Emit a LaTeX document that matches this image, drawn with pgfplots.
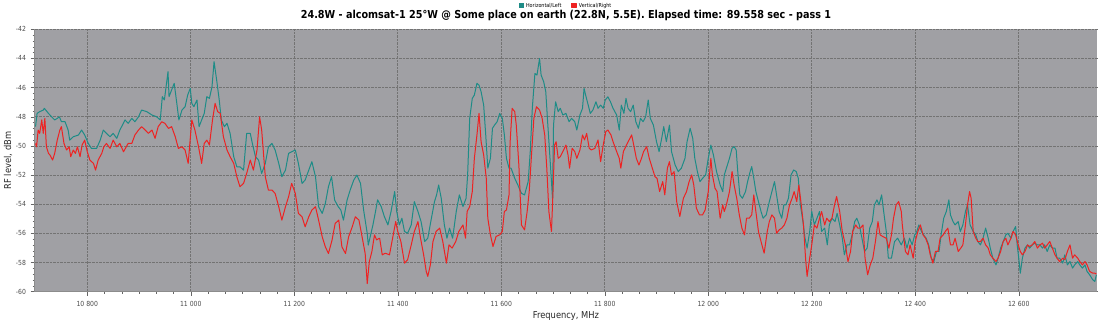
\documentclass[border=0pt]{standalone}
\usepackage{fontspec}
\setmainfont[FakeStretch=0.88]{DejaVu Sans}
\usepackage{pgfplots}
\pgfplotsset{compat=1.18}
\definecolor{plotbg}{RGB}{160,160,164}
\definecolor{hcol}{RGB}{30,140,135}
\definecolor{vcol}{RGB}{238,34,34}
\begin{document}
\begin{tikzpicture}[x=1bp,y=1bp]
\useasboundingbox (0,0) rectangle (1100,322);
\begin{axis}[
  at={(34.5bp,30.3bp)}, anchor=south west,
  scale only axis, width=1062.9bp, height=262.4bp,
  xmin=10698, xmax=12752, ymin=-60, ymax=-42,
  axis background/.style={fill=plotbg},
  axis lines*=left,
  axis line style={draw=black!45, line width=0.6bp},
  scaled x ticks=false, scaled y ticks=false,
  xtick={10800,11000,...,12600}, ytick={-60,-58,...,-42},
  minor x tick num=5, minor y tick num=4,
  tick align=outside, major tick length=4bp, minor tick length=2bp,
  tick style={draw=black!60, line width=0.5bp},
  grid=major,
  major grid style={densely dotted, draw=black!55, line width=0.6bp},
  /pgf/number format/1000 sep={\ },
  /pgf/number format/assume math mode=true,
  ticklabel style={font=\fontsize{7}{8}\selectfont, text=black!70},
  xticklabel style={yshift=-2bp},
  yticklabel style={xshift=-1bp},
  xlabel={Frequency, MHz}, ylabel={RF level, dBm},
  label style={font=\fontsize{9.5}{11}\selectfont, text=black!85},
  xlabel style={at={(axis description cs:0.5,-0.0926)}, anchor=center},
  ylabel style={at={(axis description cs:-0.0249,0.5)}, anchor=center},
  title={24.8W - alcomsat-1 25°W @ Some place on earth (22.8N, 5.5E). Elapsed time: 89.558 sec - pass 1},
  title style={font=\bfseries\fontsize{11}{12}\selectfont, at={(axis description cs:0.5,1)}, anchor=base, yshift=4.8bp},
  legend columns=2,
  legend style={at={(axis description cs:0.5,1)}, anchor=center, yshift=23.3bp, draw=none, fill=none,
    font=\fontsize{5.5}{6}\selectfont, inner sep=0pt,
    /tikz/every even column/.append style={column sep=8bp}},
  legend image code/.code={\fill[#1] (0bp,-2bp) rectangle (4.5bp,2.5bp);},
  every axis plot/.append style={line width=1bp, line join=round},
]
\addplot[color=hcol, no marks] coordinates {
(10700,-48.68)(10703,-47.77)(10708,-47.65)(10715,-47.54)(10717,-47.42)(10725,-47.77)(10731,-48.00)(10737,-48.22)(10742,-48.11)(10746,-48.00)(10750,-48.34)(10757,-48.34)(10763,-48.91)(10766,-49.60)(10773,-49.37)(10783,-49.25)(10789,-48.91)(10795,-49.25)(10802,-49.83)(10808,-50.17)(10818,-50.17)(10825,-49.60)(10831,-48.91)(10837,-49.14)(10844,-49.37)(10850,-49.14)(10857,-49.48)(10863,-48.91)(10873,-48.22)(10879,-48.45)(10886,-48.11)(10892,-48.34)(10899,-48.00)(10905,-47.54)(10915,-47.65)(10925,-47.88)(10934,-48.00)(10941,-48.22)(10945,-46.62)(10949,-46.85)(10956,-44.91)(10958,-46.62)(10963,-46.16)(10968,-45.71)(10973,-47.08)(10977,-48.22)(10983,-47.54)(10989,-47.31)(10994,-46.51)(10999,-46.05)(11002,-47.08)(11006,-47.31)(11012,-46.85)(11016,-48.68)(11021,-48.22)(11026,-47.77)(11031,-46.62)(11036,-46.74)(11041,-45.94)(11045,-44.22)(11050,-45.48)(11055,-46.85)(11059,-48.22)(11065,-48.68)(11070,-48.45)(11076,-49.14)(11083,-50.74)(11089,-51.43)(11095,-51.43)(11102,-51.66)(11108,-49.14)(11115,-49.14)(11119,-49.83)(11125,-50.74)(11131,-50.97)(11137,-51.89)(11144,-51.20)(11150,-50.06)(11157,-49.83)(11163,-50.28)(11170,-51.20)(11176,-52.11)(11183,-51.66)(11189,-50.51)(11195,-50.40)(11202,-50.28)(11208,-51.20)(11215,-52.57)(11221,-52.34)(11228,-51.66)(11234,-51.08)(11241,-52.11)(11247,-54.17)(11254,-54.63)(11260,-53.95)(11266,-52.80)(11272,-52.11)(11278,-53.72)(11285,-54.17)(11290,-54.40)(11295,-55.09)(11302,-53.72)(11308,-53.03)(11315,-52.34)(11321,-52.00)(11328,-52.57)(11334,-54.40)(11341,-56.00)(11343,-56.80)(11352,-55.42)(11357,-54.50)(11361,-53.70)(11368,-54.16)(11374,-54.84)(11381,-55.42)(11387,-54.50)(11394,-53.13)(11398,-54.50)(11403,-55.42)(11408,-54.96)(11413,-55.87)(11419,-55.99)(11426,-55.42)(11432,-53.82)(11439,-54.50)(11445,-55.19)(11452,-56.56)(11458,-56.33)(11465,-54.96)(11471,-53.82)(11475,-53.36)(11479,-52.68)(11484,-53.59)(11490,-55.42)(11495,-56.33)(11500,-55.64)(11506,-56.33)(11513,-54.50)(11519,-53.36)(11526,-54.16)(11532,-53.59)(11535,-51.99)(11539,-48.11)(11544,-46.74)(11548,-46.51)(11553,-45.71)(11557,-45.83)(11561,-46.28)(11566,-47.20)(11570,-49.25)(11574,-51.53)(11579,-50.85)(11583,-48.79)(11587,-48.57)(11592,-48.34)(11597,-47.77)(11602,-48.11)(11606,-49.25)(11610,-50.85)(11615,-51.53)(11619,-51.53)(11626,-52.22)(11632,-52.68)(11639,-53.25)(11645,-53.36)(11652,-52.45)(11656,-50.39)(11660,-47.42)(11665,-45.03)(11669,-45.14)(11674,-44.00)(11677,-45.14)(11682,-45.60)(11686,-46.28)(11690,-48.57)(11695,-51.31)(11699,-53.59)(11701,-48.57)(11705,-46.97)(11710,-47.65)(11714,-47.42)(11719,-47.88)(11725,-47.77)(11731,-48.34)(11736,-48.11)(11742,-48.34)(11746,-48.91)(11752,-47.88)(11757,-47.42)(11760,-46.05)(11763,-46.51)(11768,-47.20)(11772,-47.77)(11777,-47.54)(11783,-46.97)(11787,-47.42)(11792,-47.20)(11797,-47.42)(11801,-46.85)(11806,-46.63)(11811,-46.97)(11816,-47.42)(11823,-47.88)(11828,-48.91)(11832,-47.20)(11837,-47.77)(11841,-46.74)(11845,-47.42)(11850,-47.65)(11855,-47.20)(11860,-48.34)(11865,-48.79)(11869,-48.11)(11874,-48.34)(11879,-48.00)(11884,-46.85)(11888,-48.11)(11894,-48.57)(11900,-49.71)(11905,-50.39)(11910,-49.48)(11914,-48.68)(11919,-49.71)(11925,-48.57)(11929,-50.39)(11936,-51.31)(11942,-51.76)(11948,-51.53)(11955,-50.85)(11959,-49.71)(11965,-48.79)(11970,-49.48)(11974,-50.85)(11979,-51.76)(11984,-52.45)(11989,-52.22)(11995,-51.99)(12000,-50.85)(12005,-49.94)(12010,-50.62)(12016,-51.76)(12023,-52.68)(12028,-53.13)(12031,-51.99)(12035,-51.53)(12041,-50.85)(12046,-50.16)(12050,-50.05)(12054,-50.28)(12057,-51.76)(12061,-53.36)(12066,-53.59)(12072,-53.13)(12076,-52.45)(12081,-51.76)(12084,-51.42)(12088,-52.22)(12092,-53.13)(12097,-53.82)(12102,-54.50)(12106,-54.96)(12112,-54.73)(12118,-53.82)(12123,-53.13)(12128,-52.45)(12132,-53.36)(12137,-54.50)(12142,-54.96)(12146,-54.05)(12150,-54.05)(12155,-53.59)(12160,-51.99)(12165,-51.65)(12170,-51.76)(12174,-52.22)(12178,-54.05)(12183,-55.19)(12187,-56.33)(12191,-57.01)(12196,-55.87)(12200,-54.50)(12205,-55.42)(12210,-54.96)(12215,-54.50)(12219,-55.87)(12225,-55.64)(12230,-56.79)(12234,-55.42)(12239,-54.96)(12245,-55.19)(12249,-54.62)(12254,-55.42)(12259,-56.33)(12263,-57.47)(12268,-56.79)(12273,-56.79)(12278,-56.10)(12283,-55.19)(12287,-54.96)(12292,-55.42)(12297,-56.33)(12302,-57.24)(12307,-57.01)(12312,-55.64)(12317,-55.19)(12321,-54.05)(12326,-53.70)(12330,-54.05)(12335,-53.36)(12339,-54.50)(12344,-55.87)(12348,-57.70)(12354,-57.70)(12360,-56.56)(12366,-56.33)(12373,-56.79)(12379,-56.33)(12384,-57.01)(12389,-56.33)(12394,-56.79)(12399,-56.10)(12403,-55.87)(12407,-55.42)(12412,-55.87)(12416,-56.10)(12421,-56.33)(12426,-56.79)(12431,-57.70)(12436,-57.93)(12441,-57.24)(12446,-57.24)(12450,-56.10)(12455,-54.96)(12460,-54.50)(12465,-53.70)(12468,-54.73)(12473,-55.19)(12477,-55.42)(12483,-55.19)(12487,-55.87)(12492,-55.42)(12497,-54.50)(12501,-54.05)(12506,-55.42)(12512,-55.87)(12517,-56.10)(12521,-56.56)(12526,-56.79)(12531,-56.33)(12536,-55.64)(12541,-56.33)(12545,-57.01)(12550,-57.70)(12556,-58.16)(12560,-57.70)(12565,-57.01)(12570,-56.56)(12575,-56.10)(12579,-55.99)(12585,-56.33)(12589,-55.87)(12594,-55.53)(12597,-56.79)(12600,-57.70)(12603,-58.73)(12607,-57.70)(12612,-57.01)(12617,-56.79)(12621,-57.01)(12626,-56.79)(12631,-56.67)(12636,-56.79)(12641,-56.79)(12646,-57.01)(12650,-56.79)(12655,-57.24)(12660,-56.79)(12665,-57.01)(12670,-57.01)(12674,-57.70)(12679,-57.70)(12685,-58.04)(12689,-57.47)(12694,-58.16)(12699,-57.93)(12704,-58.38)(12708,-58.16)(12714,-57.93)(12718,-58.16)(12723,-58.38)(12728,-58.16)(12732,-58.61)(12737,-58.84)(12743,-59.18)(12747,-59.30)(12750,-58.84)
};
\addlegendentry{Horizontal/Left}
\addplot[color=vcol, no marks] coordinates {
(10700,-49.83)(10702,-50.06)(10705,-48.91)(10708,-49.14)(10712,-48.22)(10715,-49.14)(10718,-48.11)(10721,-50.06)(10725,-50.51)(10728,-50.63)(10733,-50.97)(10737,-50.51)(10742,-49.60)(10747,-48.91)(10750,-48.68)(10755,-49.83)(10760,-50.28)(10765,-50.06)(10768,-50.74)(10773,-50.28)(10777,-50.51)(10781,-50.06)(10786,-50.74)(10790,-49.94)(10795,-49.60)(10800,-50.40)(10805,-50.97)(10812,-51.20)(10816,-51.66)(10821,-50.97)(10828,-50.51)(10832,-50.06)(10837,-49.83)(10844,-50.17)(10850,-49.60)(10857,-50.06)(10863,-49.83)(10870,-50.40)(10879,-49.83)(10886,-49.83)(10892,-49.25)(10899,-48.91)(10905,-48.68)(10912,-48.91)(10918,-49.14)(10925,-48.91)(10931,-49.48)(10937,-48.68)(10944,-48.34)(10950,-48.45)(10957,-48.80)(10963,-48.68)(10970,-49.37)(10976,-50.17)(10983,-50.06)(10989,-50.28)(10995,-51.20)(11002,-48.22)(11008,-48.91)(11015,-50.06)(11021,-51.20)(11026,-49.83)(11031,-49.60)(11036,-49.94)(11042,-48.22)(11047,-47.08)(11052,-47.65)(11057,-47.77)(11063,-49.37)(11070,-50.28)(11076,-50.74)(11083,-51.20)(11089,-52.11)(11095,-52.80)(11102,-52.57)(11108,-51.89)(11115,-50.97)(11121,-51.66)(11128,-50.28)(11133,-48.00)(11137,-48.91)(11144,-52.11)(11150,-53.03)(11157,-53.03)(11163,-53.26)(11170,-54.17)(11176,-55.09)(11183,-54.17)(11189,-53.49)(11195,-52.57)(11202,-53.26)(11208,-54.63)(11215,-54.86)(11221,-55.55)(11228,-54.86)(11234,-54.40)(11241,-54.17)(11247,-55.09)(11254,-56.23)(11260,-56.92)(11266,-57.38)(11273,-56.46)(11279,-55.32)(11286,-55.09)(11292,-56.92)(11299,-57.38)(11305,-56.23)(11312,-55.55)(11318,-54.86)(11325,-55.09)(11331,-56.23)(11337,-57.38)(11341,-59.44)(11345,-57.93)(11350,-57.24)(11355,-56.10)(11359,-56.44)(11365,-56.33)(11370,-57.47)(11376,-57.36)(11384,-57.47)(11390,-56.33)(11396,-55.19)(11400,-55.87)(11406,-56.56)(11413,-58.04)(11419,-57.81)(11426,-56.79)(11432,-55.87)(11439,-55.19)(11444,-56.33)(11450,-57.47)(11455,-58.61)(11458,-58.95)(11463,-58.16)(11468,-56.56)(11474,-55.87)(11481,-55.64)(11487,-56.56)(11494,-58.04)(11499,-56.79)(11505,-57.01)(11512,-56.56)(11518,-55.87)(11526,-55.42)(11531,-56.33)(11534,-54.50)(11539,-54.16)(11544,-53.13)(11548,-50.85)(11553,-49.25)(11557,-47.77)(11561,-49.71)(11566,-50.62)(11571,-52.22)(11574,-54.96)(11579,-56.10)(11584,-56.90)(11590,-56.21)(11597,-56.10)(11602,-55.87)(11606,-54.50)(11610,-54.39)(11615,-53.36)(11617,-49.82)(11621,-47.42)(11626,-47.65)(11629,-48.57)(11634,-51.31)(11639,-55.42)(11645,-55.76)(11650,-54.50)(11654,-53.13)(11658,-50.85)(11663,-48.11)(11668,-47.31)(11674,-47.54)(11679,-48.11)(11684,-49.25)(11688,-51.53)(11692,-54.50)(11697,-55.87)(11700,-53.13)(11703,-49.94)(11706,-49.71)(11710,-50.85)(11714,-50.74)(11719,-50.39)(11725,-49.94)(11729,-50.62)(11732,-51.53)(11737,-50.16)(11742,-50.39)(11746,-50.85)(11752,-50.28)(11757,-49.25)(11761,-49.59)(11765,-49.14)(11770,-50.16)(11774,-50.28)(11781,-50.16)(11787,-49.59)(11792,-51.08)(11797,-49.94)(11802,-49.02)(11806,-48.91)(11812,-49.25)(11816,-49.71)(11823,-50.39)(11828,-50.85)(11831,-51.53)(11836,-50.39)(11842,-49.94)(11847,-49.59)(11852,-49.25)(11856,-49.94)(11861,-50.85)(11866,-51.31)(11871,-50.85)(11875,-50.39)(11881,-50.05)(11886,-50.85)(11890,-51.31)(11897,-52.11)(11901,-52.22)(11906,-53.13)(11912,-52.45)(11916,-53.36)(11921,-51.53)(11925,-51.08)(11929,-51.99)(11934,-51.76)(11939,-53.82)(11945,-54.84)(11952,-53.59)(11958,-53.13)(11963,-52.45)(11968,-51.99)(11972,-52.68)(11977,-54.27)(11983,-54.73)(11989,-54.73)(11994,-54.39)(12000,-53.13)(12005,-50.85)(12008,-51.99)(12013,-52.90)(12017,-53.13)(12023,-54.96)(12028,-54.05)(12031,-54.50)(12035,-54.05)(12041,-53.13)(12046,-51.76)(12050,-52.68)(12055,-53.59)(12060,-54.73)(12065,-55.64)(12070,-56.10)(12074,-54.96)(12079,-54.96)(12084,-54.73)(12088,-53.36)(12092,-54.50)(12097,-55.87)(12102,-56.56)(12108,-57.36)(12114,-55.87)(12118,-55.19)(12123,-54.73)(12128,-54.96)(12132,-55.99)(12137,-55.76)(12142,-55.64)(12147,-55.42)(12152,-54.96)(12157,-54.05)(12162,-53.59)(12166,-53.13)(12171,-53.82)(12175,-52.68)(12179,-53.82)(12184,-55.42)(12188,-57.70)(12191,-58.95)(12196,-57.70)(12200,-56.79)(12205,-55.42)(12210,-55.64)(12215,-54.96)(12219,-54.50)(12225,-55.42)(12229,-54.96)(12234,-55.19)(12239,-54.96)(12244,-54.05)(12248,-53.47)(12254,-54.50)(12259,-55.87)(12265,-56.79)(12270,-57.93)(12275,-57.24)(12279,-55.87)(12285,-55.42)(12289,-55.64)(12294,-55.64)(12299,-55.42)(12303,-57.70)(12308,-58.84)(12313,-58.16)(12318,-57.70)(12323,-56.56)(12328,-55.19)(12332,-56.10)(12337,-56.21)(12344,-56.33)(12349,-57.01)(12354,-56.10)(12358,-54.96)(12363,-54.05)(12368,-53.82)(12373,-54.50)(12375,-55.42)(12381,-57.24)(12386,-57.47)(12390,-56.79)(12396,-57.70)(12400,-56.56)(12405,-55.87)(12410,-55.42)(12415,-56.10)(12420,-56.33)(12425,-56.79)(12429,-57.47)(12434,-58.04)(12439,-57.24)(12444,-57.24)(12448,-56.33)(12454,-56.10)(12458,-55.87)(12463,-55.64)(12468,-56.79)(12473,-56.79)(12477,-56.33)(12483,-57.24)(12488,-57.01)(12492,-56.79)(12497,-55.42)(12501,-54.05)(12505,-53.13)(12508,-53.59)(12512,-55.87)(12517,-56.33)(12521,-56.56)(12526,-56.56)(12531,-56.33)(12536,-56.79)(12541,-57.01)(12545,-57.47)(12550,-57.70)(12556,-57.93)(12560,-57.70)(12565,-57.24)(12570,-56.56)(12575,-56.33)(12579,-56.79)(12585,-56.33)(12589,-55.87)(12594,-56.10)(12599,-56.79)(12603,-57.24)(12607,-57.47)(12612,-57.24)(12617,-56.79)(12621,-56.90)(12626,-56.79)(12631,-56.56)(12636,-57.01)(12641,-56.79)(12646,-56.67)(12650,-57.01)(12655,-56.79)(12660,-56.56)(12665,-57.01)(12670,-57.47)(12674,-57.70)(12679,-57.93)(12685,-57.70)(12689,-57.81)(12694,-57.24)(12699,-56.79)(12704,-57.70)(12708,-57.47)(12714,-57.70)(12718,-57.93)(12723,-58.16)(12728,-57.93)(12732,-58.16)(12737,-58.61)(12743,-58.73)(12747,-58.73)(12750,-58.79)
};
\addlegendentry{Vertical/Right}
\end{axis}
\end{tikzpicture}
\end{document}
